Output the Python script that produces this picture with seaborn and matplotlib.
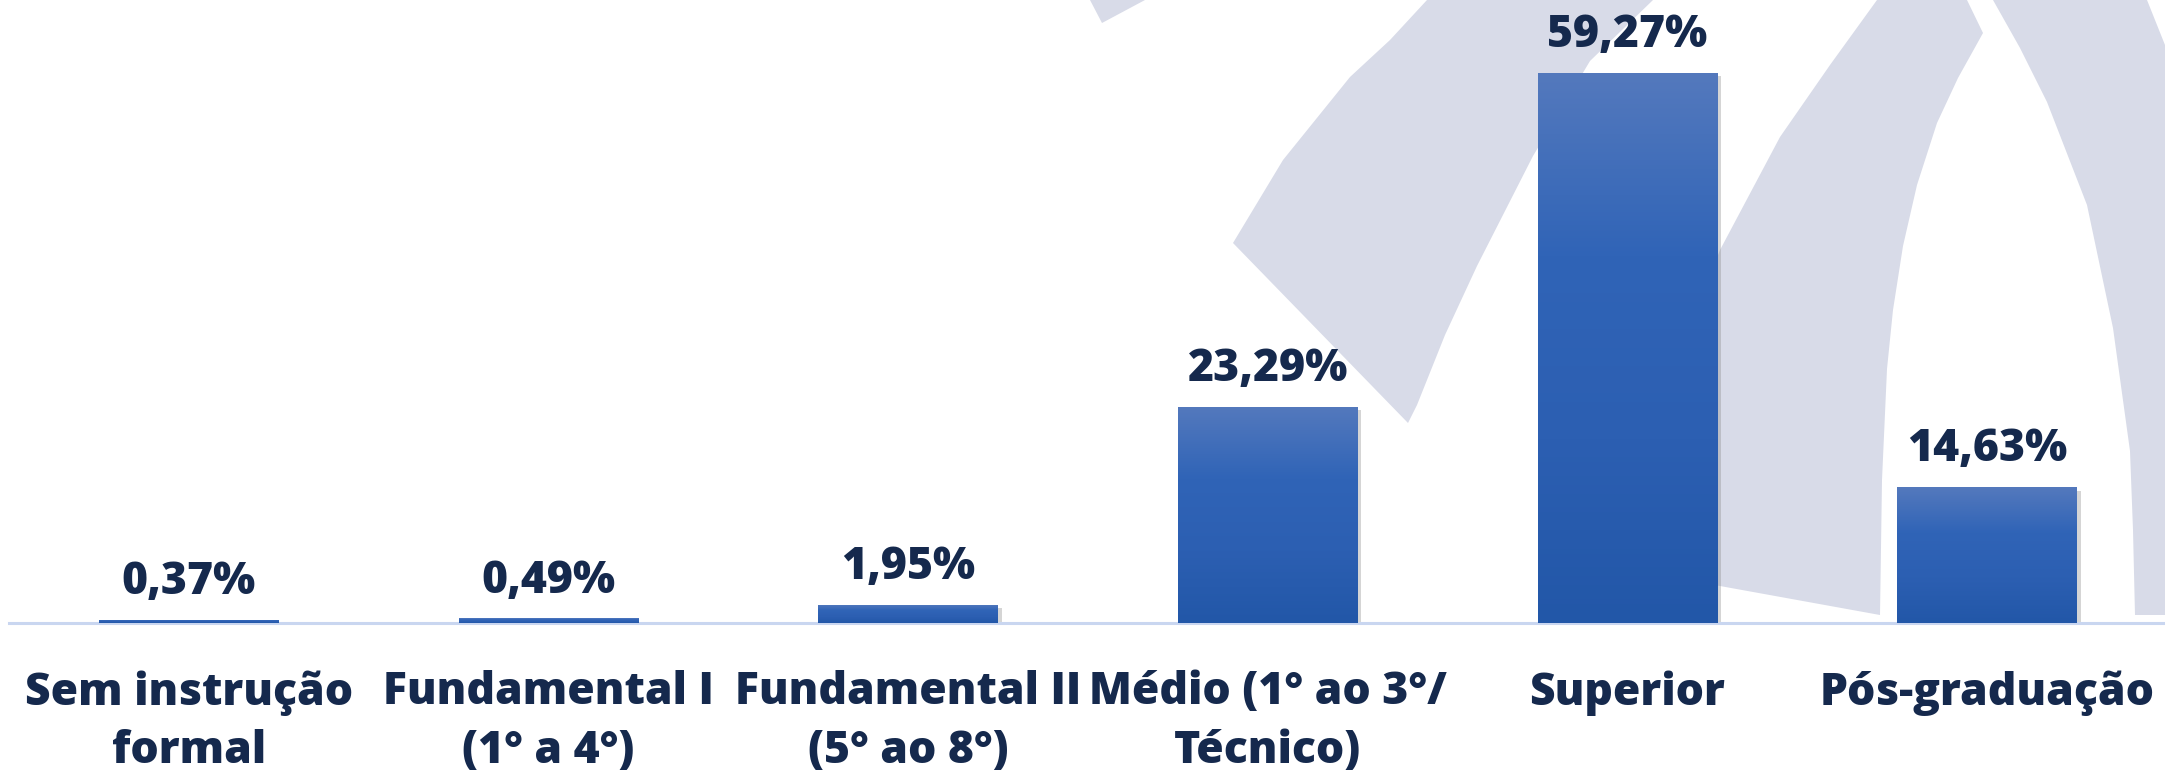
import matplotlib
matplotlib.use("Agg")
import matplotlib.pyplot as plt
import matplotlib.patheffects as pe
from matplotlib.colors import LinearSegmentedColormap
from matplotlib.patches import Polygon
import numpy as np
import pandas as pd
import seaborn as sns

# dados
categorias = ["Sem instrução\nformal", "Fundamental I\n(1° a 4°)", "Fundamental II\n(5° ao 8°)",
              "Médio (1° ao 3°/\nTécnico)", "Superior", "Pós-graduação"]
percentuais = [0.37, 0.49, 1.95, 23.29, 59.27, 14.63]

df = pd.DataFrame({"escolaridade": categorias, "pct": percentuais})

sns.set_style("white")
plt.rcParams["font.family"] = ["Open Sans", "DejaVu Sans"]

NAVY = "#15294d"
W, H = 2165, 779

fig = plt.figure(figsize=(W / 100, H / 100), dpi=100)
fig.patch.set_facecolor("white")

# marca d'agua ao fundo (coordenadas em pixels da figura)
marca = [
    [(1090, 0), (1145, 0), (1102, 23)],
    [(1427, 0), (1390, 40), (1350, 77), (1283, 160), (1233, 243), (1408, 423), (1417, 405),
     (1445, 335), (1477, 266), (1533, 156), (1590, 61), (1653, 0)],
    [(1877, 0), (1967, 0), (1983, 33), (1958, 78), (1937, 123), (1917, 185), (1903, 246),
     (1893, 310), (1887, 369), (1882, 480), (1880, 615), (1720, 586), (1660, 575), (1665, 450),
     (1685, 340), (1720, 250), (1780, 137), (1830, 65)],
    [(1993, 0), (2147, 0), (2165, 45), (2165, 615), (2135, 615), (2133, 530), (2130, 451),
     (2113, 328), (2087, 205), (2047, 102), (2020, 48)],
]
for pts in marca:
    xy = [(x / W, 1 - y / H) for x, y in pts]
    fig.patches.append(Polygon(xy, closed=True, transform=fig.transFigure,
                               facecolor="#d8dbe8", edgecolor="none", zorder=-10))

ax = fig.add_axes([9 / W, 156 / H, 2158 / W, 1 - 156 / H])
ax.patch.set_alpha(0)

sns.barplot(data=df, x="escolaridade", y="pct", color="#2257a8", width=0.5, ax=ax,
            saturation=1, linewidth=0)

# gradiente nas barras
cmap = LinearSegmentedColormap.from_list("azul", ["#2257a8", "#2c5fb2", "#3064b7", "#5479bd"])
grad = np.linspace(0, 1, 256).reshape(-1, 1)
for bar in ax.patches:
    bar.set_path_effects([pe.SimplePatchShadow(offset=(2.5, -2.5), shadow_rgbFace="#888888", alpha=0.35),
                          pe.Normal()])
    x0, y0 = bar.get_x(), bar.get_y()
    x1, y1 = x0 + bar.get_width(), y0 + bar.get_height()
    im = ax.imshow(grad, extent=[x0, x1, y0, y1], origin="lower", aspect="auto", cmap=cmap, zorder=3)
    im.set_clip_path(bar)

for bar, v in zip(ax.patches, percentuais):
    ax.annotate(f"{v:.2f}".replace(".", ",") + "%",
                (bar.get_x() + bar.get_width() / 2, bar.get_height()),
                xytext=(0, 18.5), textcoords="offset points", ha="center", va="baseline",
                fontsize=32, fontweight="heavy", color=NAVY)

ax.set_xlim(-0.5, 5.5)
ax.set_ylim(0, 67.1)
ax.set_xlabel("")
ax.set_ylabel("")
ax.set_yticks([])
for s in ["top", "left", "right"]:
    ax.spines[s].set_visible(False)
ax.spines["bottom"].set_color("#c9d6f0")
ax.spines["bottom"].set_linewidth(2.2)
ax.tick_params(axis="x", length=0, pad=34)
for lbl in ax.get_xticklabels():
    lbl.set_fontsize(32)
    lbl.set_fontweight("heavy")
    lbl.set_color(NAVY)
    lbl.set_linespacing(1.4)

fig.savefig("out.png", dpi=100)
